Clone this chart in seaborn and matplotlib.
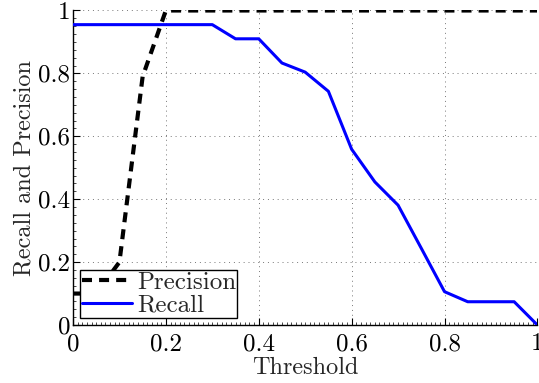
import numpy as np
import pandas as pd
import matplotlib
matplotlib.use("Agg")
import matplotlib.pyplot as plt
from matplotlib.ticker import MultipleLocator, FormatStrFormatter
import seaborn as sns

threshold = [0.0, 0.05, 0.1, 0.15, 0.2, 0.25, 0.3, 0.35, 0.4, 0.45, 0.5,
             0.55, 0.6, 0.65, 0.7, 0.75, 0.8, 0.85, 0.9, 0.95, 1.0]
precision = [0.1, 0.1, 0.2, 0.79, 1.0, 1.0, 1.0, 1.0, 1.0, 1.0, 1.0,
             1.0, 1.0, 1.0, 1.0, 1.0, 1.0, 1.0, 1.0, 1.0, 1.0]
recall = [0.955, 0.955, 0.955, 0.955, 0.955, 0.955, 0.955, 0.91, 0.91, 0.833, 0.804,
          0.743, 0.559, 0.455, 0.381, 0.244, 0.106, 0.074, 0.074, 0.074, 0.0]

sns.set_style("white")
plt.rcParams['font.family'] = ['cmr10', 'DejaVu Serif']
plt.rcParams['axes.formatter.use_mathtext'] = True
plt.rcParams['mathtext.fontset'] = 'cm'

fig = plt.figure(figsize=(5.39, 3.83), dpi=100)
ax = fig.add_axes([0.1354, 0.1514, 0.997 - 0.1354, 0.9726 - 0.1514])

df = pd.DataFrame({"Threshold": threshold, "Precision": precision, "Recall": recall})

sns.lineplot(data=df, x="Threshold", y="Precision", ax=ax, color="black",
             linewidth=3.0, label="Precision", zorder=3)
ax.lines[-1].set_dashes((2.4, 1.7))
sns.lineplot(data=df, x="Threshold", y="Recall", ax=ax, color="#0000ff",
             linewidth=2.2, label="Recall", zorder=3)

ax.set_xlim(0, 1)
ax.set_ylim(0, 1)
ax.xaxis.set_major_locator(MultipleLocator(0.2))
ax.yaxis.set_major_locator(MultipleLocator(0.2))
ax.xaxis.set_minor_locator(MultipleLocator(0.01))
ax.yaxis.set_minor_locator(MultipleLocator(0.025))
ax.xaxis.set_major_formatter(FormatStrFormatter('%g'))
ax.yaxis.set_major_formatter(FormatStrFormatter('%g'))
ax.tick_params(which='major', direction='in', length=5, width=0.8, labelsize=18,
               color='black', labelcolor='black', pad=2)
ax.tick_params(axis='x', which='major', pad=6)
ax.tick_params(which='minor', direction='in', length=2, width=0.5, color='black')
ax.tick_params(axis='x', which='both', bottom=True, top=False)
ax.tick_params(axis='y', which='both', left=True, right=False)

ax.grid(True, which='major', linestyle=(0, (1, 4)), color='#777777', linewidth=0.7)
ax.set_axisbelow(True)

for side in ['top', 'right']:
    ax.spines[side].set_visible(False)
for side in ['left', 'bottom']:
    ax.spines[side].set_color('black')
    ax.spines[side].set_linewidth(1.0)

ax.set_xlabel("Threshold", fontsize=17.5, labelpad=1)
ax.set_ylabel("Recall and Precision", fontsize=17.5, labelpad=2)

leg = ax.legend(loc='lower left', fontsize=18, frameon=True, fancybox=False,
                edgecolor='black', framealpha=1, borderpad=0.05, labelspacing=0.0,
                handlelength=2.0, handletextpad=0.2, borderaxespad=0.3)
leg.get_frame().set_linewidth(1.0)
for l in leg.get_lines():
    if l.get_label() == "Precision":
        l.set_dashes((2.4, 1.7))

fig.savefig("out.png", dpi=100)
